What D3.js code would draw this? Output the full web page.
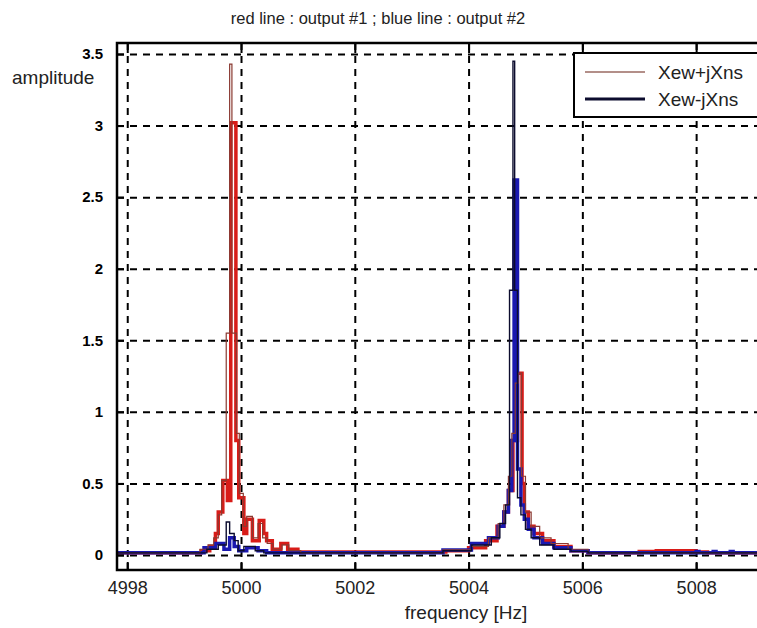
<!DOCTYPE html>
<meta charset="utf-8">
<style>
body { margin: 0; background: #fff; }
.lbl { font: 19px "Liberation Sans", Arial, sans-serif; fill: #222; }
.ytick text { font: bold 15px "Liberation Sans", Arial, sans-serif; fill: #000; }
.xtick text { font: 18px "Liberation Sans", Arial, sans-serif; fill: #222; }
.grid line { stroke: #000; stroke-width: 2; stroke-dasharray: 7,6; }
</style>
<body>
<script src="https://d3js.org/d3.v7.min.js"></script>
<script>

// tick values
const xTicks = [4998, 5000, 5002, 5004, 5006, 5008];
const yTicks = [0, 0.5, 1, 1.5, 2, 2.5, 3, 3.5];

// output #1, thick red trace (step starts in Hz, amplitude)
const redFreq = [4997.8, 4999.3, 4999.45, 4999.55, 4999.6, 4999.68, 4999.76, 4999.82, 4999.91, 4999.96, 5000.05, 5000.1, 5000.2, 5000.32, 5000.4, 5000.45, 5000.55, 5000.7, 5000.82, 5001.0, 5003.6, 5004.0, 5004.3, 5004.5, 5004.62, 5004.7, 5004.78, 5004.86, 5004.94, 5004.98, 5005.05, 5005.15, 5005.3, 5005.5, 5005.8, 5006.1, 5007.0, 5007.3, 5008.0, 5008.2, 5009.5];
const redAmp  = [0.015, 0.03, 0.06, 0.15, 0.3, 0.52, 0.38, 3.02, 0.8, 0.4, 0.15, 0.25, 0.1, 0.24, 0.15, 0.1, 0.04, 0.08, 0.04, 0.02, 0.03, 0.05, 0.1, 0.2, 0.3, 0.45, 0.8, 1.27, 0.5, 0.3, 0.2, 0.15, 0.1, 0.06, 0.03, 0.015, 0.025, 0.03, 0.02, 0.015, 0.015];

// output #1, thin trace (Xew+jXns)
const brownFreq = [4997.8, 4999.28, 4999.42, 4999.52, 4999.6, 4999.66, 4999.74, 4999.8, 4999.84, 4999.92, 4999.97, 5000.04, 5000.1, 5000.2, 5000.3, 5000.38, 5000.46, 5000.56, 5000.72, 5000.84, 5001.05, 5003.55, 5004.05, 5004.35, 5004.52, 5004.62, 5004.7, 5004.76, 5004.82, 5004.87, 5004.93, 5005.0, 5005.1, 5005.25, 5005.45, 5005.75, 5006.1, 5009.5];
const brownAmp  = [0.015, 0.04, 0.07, 0.12, 0.28, 0.52, 1.55, 3.43, 1.55, 0.85, 0.43, 0.2, 0.27, 0.12, 0.22, 0.12, 0.08, 0.04, 0.07, 0.03, 0.015, 0.035, 0.06, 0.12, 0.22, 0.35, 0.55, 0.85, 1.2, 1.27, 0.55, 0.3, 0.2, 0.12, 0.08, 0.04, 0.015, 0.015];

// output #2, thick blue trace
const blueFreq = [4997.8, 4999.35, 4999.55, 4999.7, 4999.8, 4999.88, 4999.96, 5000.1, 5000.3, 5000.45, 5003.55, 5004.05, 5004.35, 5004.52, 5004.62, 5004.7, 5004.76, 5004.8, 5004.86, 5004.92, 5004.98, 5005.05, 5005.15, 5005.3, 5005.5, 5005.8, 5006.1, 5008.0, 5008.05, 5008.3, 5008.35, 5008.6, 5008.65, 5009.5];
const blueAmp  = [0.015, 0.05, 0.08, 0.04, 0.12, 0.06, 0.03, 0.05, 0.03, 0.015, 0.035, 0.08, 0.12, 0.2, 0.3, 0.45, 0.8, 2.62, 0.6, 0.35, 0.25, 0.18, 0.12, 0.08, 0.05, 0.03, 0.015, 0.025, 0.015, 0.025, 0.015, 0.025, 0.015, 0.015];

// output #2, thin trace (Xew-jXns)
const navyFreq = [4997.8, 4999.4, 4999.6, 4999.74, 4999.8, 4999.88, 4999.95, 5000.05, 5000.25, 5000.4, 5003.55, 5004.05, 5004.4, 5004.55, 5004.65, 5004.72, 5004.78, 5004.81, 5004.86, 5004.92, 5005.0, 5005.1, 5005.25, 5005.5, 5005.8, 5006.1, 5009.5];
const navyAmp  = [0.015, 0.04, 0.07, 0.23, 0.15, 0.1, 0.03, 0.06, 0.03, 0.015, 0.03, 0.07, 0.12, 0.22, 0.35, 1.85, 3.45, 1.85, 0.4, 0.28, 0.18, 0.12, 0.07, 0.04, 0.025, 0.015, 0.015];

const width = 757, height = 628;
const pLeft = 117, pRight = 790, pTop = 43, pBottom = 570;

const x = d3.scaleLinear().domain([4997.82, 5009.65]).range([pLeft, pRight]);
const y = d3.scaleLinear().domain([-0.105, 3.577]).range([pBottom, pTop]);

const svg = d3.select("body").append("svg")
    .attr("width", width)
    .attr("height", height);

svg.append("rect").attr("width", width).attr("height", height).attr("fill", "#fff");

svg.append("clipPath").attr("id", "plot")
  .append("rect").attr("x", pLeft).attr("y", pTop).attr("width", pRight - pLeft).attr("height", pBottom - pTop);

// dashed grid
svg.append("g").attr("class", "grid")
    .attr("transform", `translate(0,${pBottom})`)
    .call(d3.axisBottom(x).tickValues(xTicks).tickSize(-(pBottom - pTop)).tickFormat(""))
    .call(g => g.select(".domain").remove());
svg.append("g").attr("class", "grid")
    .attr("transform", `translate(${pLeft},0)`)
    .call(d3.axisLeft(y).tickValues(yTicks).tickSize(-(pRight - pLeft)).tickFormat(""))
    .call(g => g.select(".domain").remove());

// traces
const step = (fs, as) => d3.line()
    .curve(d3.curveStepAfter)
    .x((d, i) => x(fs[i]))
    .y(d => y(d))(as);

const traces = [
  [redFreq, redAmp, "#d81c18", 3.5],
  [blueFreq, blueAmp, "#1a18b0", 3.5],
  [brownFreq, brownAmp, "#8a3a32", 1.2],
  [navyFreq, navyAmp, "#0c0c2e", 1.4]
];
const plot = svg.append("g").attr("clip-path", "url(#plot)");
traces.forEach(t => {
  plot.append("path")
      .attr("d", step(t[0], t[1]))
      .attr("fill", "none")
      .attr("stroke", t[2])
      .attr("stroke-width", t[3])
      .attr("stroke-linejoin", "miter");
});

// inward ticks
svg.append("g").attr("transform", `translate(0,${pBottom})`)
    .call(d3.axisBottom(x).tickValues(xTicks).tickSize(-8).tickFormat(""))
    .call(g => g.select(".domain").remove())
    .selectAll("line").attr("stroke", "#000").attr("stroke-width", 2);
svg.append("g").attr("transform", `translate(0,${pTop})`)
    .call(d3.axisTop(x).tickValues(xTicks).tickSize(-10).tickFormat(""))
    .call(g => g.select(".domain").remove())
    .selectAll("line").attr("stroke", "#000").attr("stroke-width", 2);
svg.append("g").attr("transform", `translate(${pLeft},0)`)
    .call(d3.axisLeft(y).tickValues(yTicks).tickSize(-7).tickFormat(""))
    .call(g => g.select(".domain").remove())
    .selectAll("line").attr("stroke", "#000").attr("stroke-width", 2);

// tick labels
svg.append("g").attr("class", "xtick")
    .attr("transform", `translate(0,${pBottom})`)
    .call(d3.axisBottom(x).tickValues(xTicks).tickSize(0).tickPadding(11).tickFormat(d3.format("d")))
    .call(g => g.select(".domain").remove());
svg.append("g").attr("class", "ytick")
    .attr("transform", `translate(${pLeft},0)`)
    .call(d3.axisLeft(y).tickValues(yTicks).tickSize(0).tickPadding(14).tickFormat(d => d))
    .call(g => g.select(".domain").remove());

// frame
svg.append("rect")
    .attr("x", pLeft).attr("y", pTop)
    .attr("width", pRight - pLeft).attr("height", pBottom - pTop)
    .attr("fill", "none").attr("stroke", "#000").attr("stroke-width", 2.5);

// legend
const lg = svg.append("g");
lg.append("rect").attr("x", 574).attr("y", 53).attr("width", 200).attr("height", 64)
    .attr("fill", "#fff").attr("stroke", "#000").attr("stroke-width", 2);
const legendItems = [["Xew+jXns", "#9a6a62", 1.5], ["Xew-jXns", "#0c0c2e", 3]];
legendItems.forEach((d, i) => {
  const ly = 72 + i * 27;
  lg.append("line").attr("x1", 585).attr("x2", 645).attr("y1", ly).attr("y2", ly)
      .attr("stroke", d[1]).attr("stroke-width", d[2]);
  lg.append("text").attr("class", "lbl").attr("x", 658).attr("y", ly + 7).text(d[0]);
});

// titles
svg.append("text").attr("class", "lbl").attr("x", 378).attr("y", 24)
    .attr("text-anchor", "middle").style("font-size", "16.5px")
    .text("red line : output #1 ; blue line : output #2");
svg.append("text").attr("class", "lbl").attr("x", 12).attr("y", 84).text("amplitude");
svg.append("text").attr("class", "lbl").attr("x", 466).attr("y", 619)
    .attr("text-anchor", "middle").text("frequency [Hz]");

</script>
</body>
